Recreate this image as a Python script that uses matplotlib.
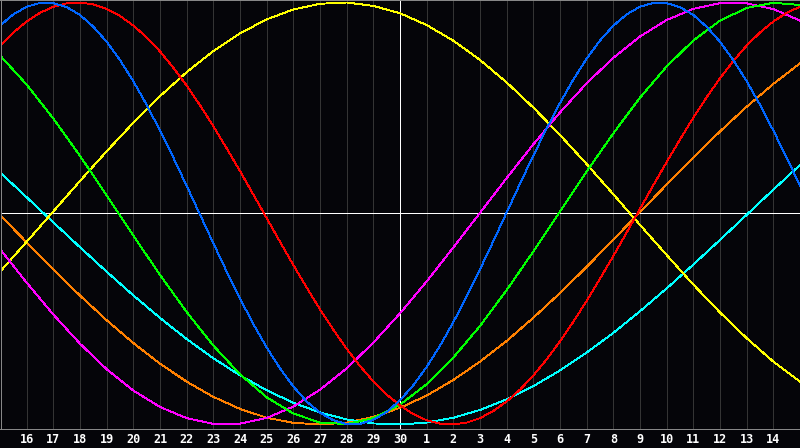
import matplotlib
matplotlib.use("Agg")
import matplotlib.pyplot as plt

# ---- data ----
day_labels = ["16", "17", "18", "19", "20", "21", "22", "23", "24", "25", "26", "27",
              "28", "29", "30", "1", "2", "3", "4", "5", "6", "7", "8", "9", "10",
              "11", "12", "13", "14"]
label_pos = list(range(len(day_labels)))          # 0 .. 28
days = list(range(-1, 30))                          # -1 .. 29 (chart edges), daily
half_days = [d / 2 for d in range(-2, 59)]          # -1 .. 29, half-daily
today_pos = 14                                      # the "30" column

red = [0.795, 0.858, 0.910, 0.951, 0.980, 0.996, 1.000, 0.991, 0.970, 0.936,
       0.891, 0.835, 0.768, 0.691, 0.606, 0.513, 0.414, 0.309, 0.201, 0.090,
       -0.022, -0.134, -0.244, -0.351, -0.454, -0.551, -0.641, -0.723, -0.796, -0.858,
       -0.910, -0.951, -0.980, -0.996, -1.000, -0.991, -0.970, -0.936, -0.891, -0.835,
       -0.768, -0.691, -0.606, -0.513, -0.414, -0.309, -0.201, -0.090, 0.022, 0.134,
       0.244, 0.351, 0.454, 0.551, 0.641, 0.723, 0.796, 0.858, 0.910, 0.951, 0.980]
blue = [0.890, 0.944, 0.980, 0.998, 0.997, 0.978, 0.941, 0.885, 0.814, 0.727,
        0.627, 0.515, 0.393, 0.265, 0.131, -0.005, -0.141, -0.275, -0.403, -0.524,
        -0.635, -0.734, -0.820, -0.891, -0.944, -0.980, -0.998, -0.997, -0.978, -0.941,
        -0.885, -0.814, -0.727, -0.627, -0.515, -0.394, -0.265, -0.131, 0.005, 0.141,
        0.275, 0.403, 0.524, 0.635, 0.734, 0.820, 0.890, 0.944, 0.980, 0.998,
        0.997, 0.978, 0.941, 0.885, 0.814, 0.727, 0.627, 0.515, 0.393, 0.265, 0.131]
green = [0.749, 0.611, 0.450, 0.273, 0.086, -0.105, -0.291, -0.467, -0.626, -0.762,
         -0.871, -0.948, -0.991, -0.998, -0.970, -0.906, -0.809, -0.683, -0.533, -0.363,
         -0.180, 0.010, 0.199, 0.380, 0.549, 0.697, 0.820, 0.914, 0.974, 0.999, 0.988]
magenta = [-0.168, -0.328, -0.479, -0.617, -0.738, -0.839, -0.917, -0.970, -0.997, -0.996,
           -0.969, -0.915, -0.835, -0.734, -0.612, -0.473, -0.322, -0.161, 0.003, 0.168,
           0.328, 0.479, 0.617, 0.738, 0.839, 0.917, 0.970, 0.997, 0.996, 0.969, 0.914]
yellow = [-0.276, -0.134, 0.010, 0.154, 0.295, 0.430, 0.556, 0.670, 0.770, 0.854,
          0.920, 0.967, 0.994, 1.000, 0.984, 0.949, 0.893, 0.819, 0.728, 0.621,
          0.502, 0.372, 0.234, 0.091, -0.054, -0.197, -0.337, -0.469, -0.591, -0.702, -0.797]
orange = [-0.007, -0.137, -0.265, -0.389, -0.506, -0.614, -0.712, -0.797, -0.869, -0.926,
          -0.968, -0.992, -1.000, -0.991, -0.964, -0.921, -0.863, -0.789, -0.702, -0.604,
          -0.494, -0.377, -0.253, -0.124, 0.007, 0.137, 0.265, 0.389, 0.506, 0.614, 0.712]
cyan = [0.195, 0.077, -0.042, -0.160, -0.276, -0.388, -0.495, -0.595, -0.686, -0.767,
        -0.838, -0.897, -0.943, -0.976, -0.995, -1.000, -0.991, -0.968, -0.931, -0.881,
        -0.818, -0.744, -0.659, -0.566, -0.463, -0.355, -0.242, -0.125, -0.006, 0.113, 0.230]

series = [
    (days, orange, "#ff8000"),
    (days, cyan, "#00ffff"),
    (days, yellow, "#ffff00"),
    (days, magenta, "#ff00ff"),
    (days, green, "#00ff00"),
    (half_days, red, "#ff0000"),
    (half_days, blue, "#0066ff"),
]

# ---- drawing ----
bg = "#050509"
W, H = 800, 448
fig = plt.figure(figsize=(W / 100, H / 100), dpi=100, facecolor=bg)
ax = fig.add_axes([0.5 / W, 19.5 / H, 799 / W, 428 / H])
ax.set_facecolor(bg)

px_per_day = W / 30.0
ax.set_xlim(-1 + 0.5 / px_per_day, 29 - 0.5 / px_per_day)
ax.set_ylim(-1.019, 1.0095)

for s in ax.spines.values():
    s.set_color("#8c8c8c")
    s.set_linewidth(0.7)

ax.set_yticks([])
ax.set_xticks(label_pos)
ax.set_xticklabels(day_labels, fontfamily="DejaVu Sans Mono", fontweight="bold",
                   fontsize=8.5, color="white")
ax.tick_params(axis="x", length=0, pad=3)
ax.grid(axis="x", color="#363636", linewidth=0.7)
ax.set_axisbelow(True)

ax.axhline(0, color="white", linewidth=0.65, zorder=1.5, antialiased=False)
ax.axvline(today_pos, color="white", linewidth=0.65, zorder=1.5, antialiased=False)

for xs, vals, col in series:
    ax.plot(xs, vals, color=col, linewidth=0.65, antialiased=False, zorder=2)

fig.savefig("out.png", dpi=100, facecolor=bg)
